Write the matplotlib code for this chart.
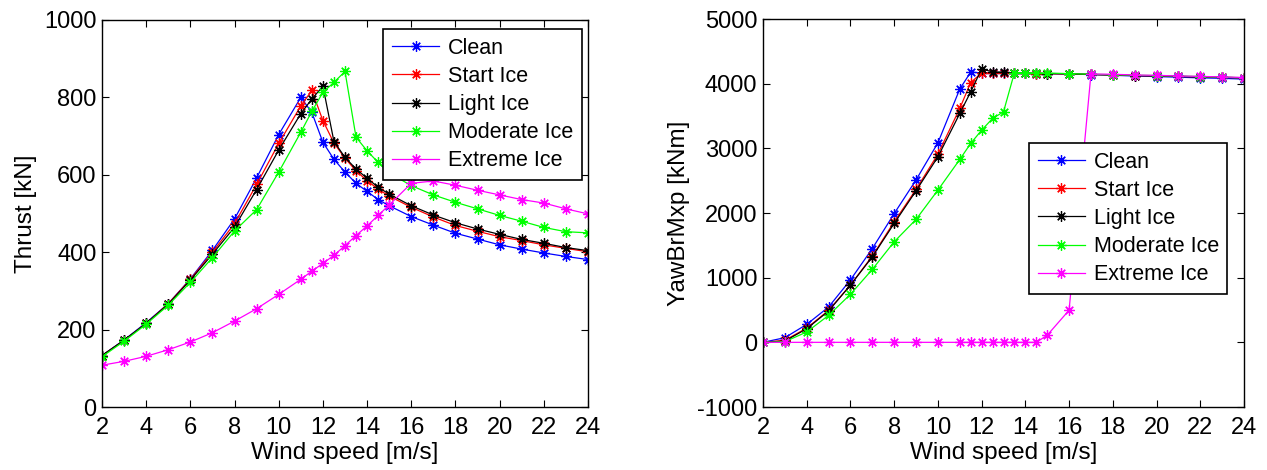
import matplotlib
matplotlib.use("Agg")
import matplotlib.pyplot as plt
import numpy as np

plt.rcParams["font.family"] = ["Liberation Sans", "DejaVu Sans"]
plt.rcParams["axes.unicode_minus"] = False

# wind speed grid (m/s)
wind = [2, 3, 4, 5, 6, 7, 8, 9, 10, 11, 11.5, 12, 12.5, 13, 13.5, 14, 14.5, 15,
        16, 17, 18, 19, 20, 21, 22, 23, 24]

labels = ["Clean", "Start Ice", "Light Ice", "Moderate Ice", "Extreme Ice"]
colors = ["#0000ff", "#ff0000", "#000000", "#00ff00", "#ff00ff"]

# thrust [kN]
thrust_clean = [133, 173, 218, 267, 331, 405, 486, 592, 704, 800, 761, 684, 640,
                607, 578, 557, 536, 520, 492, 470, 449, 434, 419, 408, 398, 389, 381]
thrust_start = [133, 172, 216, 267, 330, 400, 474, 575, 681, 778, 818, 740, 682,
                643, 610, 585, 563, 545, 516, 491, 469, 454, 440, 430, 419, 410, 401]
thrust_light = [133, 173, 216, 266, 328, 395, 465, 562, 664, 758, 796, 829, 686,
                645, 615, 591, 568, 550, 520, 496, 476, 460, 446, 433, 423, 412, 404]
thrust_moderate = [130, 170, 214, 263, 322, 386, 455, 510, 607, 710, 764, 813, 839,
                   867, 697, 662, 632, 605, 572, 548, 529, 512, 495, 480, 464, 453, 450]
thrust_extreme = [108, 118, 131, 148, 168, 192, 222, 254, 291, 330, 351, 371, 392,
                  417, 443, 468, 495, 522, 578, 584, 573, 560, 548, 536, 527, 512, 499]

# yaw bearing moment [kNm]
yaw_clean = [0, 72, 278, 546, 966, 1450, 1991, 2511, 3085, 3917, 4179, 4165, 4165,
             4162, 4160, 4158, 4156, 4155, 4150, 4140, 4130, 4118, 4110, 4100, 4090,
             4083, 4070]
yaw_start = [0, 31, 221, 494, 886, 1334, 1864, 2365, 2910, 3617, 4018, 4165, 4170,
             4168, 4162, 4158, 4156, 4155, 4150, 4142, 4135, 4125, 4120, 4112, 4105,
             4098, 4090]
yaw_light = [0, 20, 210, 485, 885, 1323, 1839, 2343, 2869, 3539, 3873, 4228, 4182,
             4178, 4165, 4160, 4158, 4156, 4152, 4143, 4135, 4126, 4120, 4112, 4105,
             4098, 4090]
yaw_moderate = [0, 10, 160, 417, 743, 1128, 1555, 1901, 2354, 2828, 3076, 3281, 3462,
                3564, 4170, 4168, 4166, 4165, 4155, 4145, 4138, 4130, 4125, 4118,
                4110, 4100, 4092]
yaw_extreme = [0, 0, 0, 0, 0, 0, 0, 0, 0, 0, 0, 0, 0, 0, 0, 0, 0, 110, 497, 4150,
               4145, 4135, 4128, 4120, 4112, 4105, 4095]

thrust = [thrust_clean, thrust_start, thrust_light, thrust_moderate, thrust_extreme]
yaw = [yaw_clean, yaw_start, yaw_light, yaw_moderate, yaw_extreme]

fig = plt.figure(figsize=(12.67, 4.70), dpi=100)
ax1 = fig.add_axes([102 / 1267, 63 / 470, 486 / 1267, 387 / 470])
ax2 = fig.add_axes([763 / 1267, 63 / 470, 481 / 1267, 388 / 470])

star = (8, 2, 0)


def draw(ax, data, ylim, yticks, ylabel):
    for y, lab, c in zip(data, labels, colors):
        ax.plot(wind, y, color=c, lw=0.9, marker=star, ms=7.5, mew=0.9, label=lab)
    ax.set_xlim(2, 24)
    ax.set_xticks(np.arange(2, 25, 2))
    ax.set_ylim(*ylim)
    ax.set_yticks(yticks)
    ax.tick_params(direction="in", top=True, right=True, labelsize=17,
                   length=5, width=0.8)
    ax.tick_params(axis="x", pad=7)
    ax.tick_params(axis="y", pad=4)
    for s in ax.spines.values():
        s.set_linewidth(1.0)
    ax.set_xlabel("Wind speed [m/s]", fontsize=17.5, labelpad=2)
    ax.set_ylabel(ylabel, fontsize=17.5, labelpad=5)


draw(ax1, thrust, (0, 1000), np.arange(0, 1001, 200), "Thrust [kN]")
draw(ax2, yaw, (-1000, 5000), np.arange(-1000, 5001, 1000), "YawBrMxp [kNm]")

leg_kw = dict(fontsize=15.5, fancybox=False, edgecolor="black", framealpha=1,
              borderaxespad=0, handlelength=2.2, labelspacing=0.33,
              handletextpad=0.4, borderpad=0.4)
l1 = ax1.legend(loc="upper right", bbox_to_anchor=(0.987, 0.976), **leg_kw)
l2 = ax2.legend(loc="upper left", bbox_to_anchor=(0.553, 0.680), **leg_kw)
for l in (l1, l2):
    l.get_frame().set_linewidth(1.2)

fig.savefig("out.png", dpi=100)
